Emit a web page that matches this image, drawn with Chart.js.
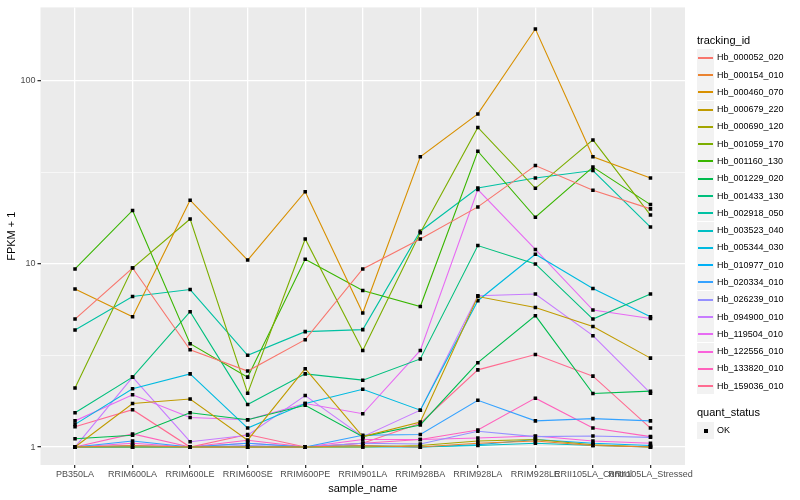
<!DOCTYPE html>
<html>
<head>
  <title>FPKM by sample</title>
  <script src="https://cdn.jsdelivr.net/npm/chart.js"></script>
  <style>
    body { margin: 0; background: #fff; font-family: "Liberation Sans", Arial, sans-serif; }
    #wrap { position: relative; width: 800px; height: 500px; }
    #legend { position: absolute; left: 0; top: 0; width: 800px; height: 500px; pointer-events: none; }
    .ttl { position: absolute; left: 697px; font-size: 11px; color: #000; line-height: 14px; }
    .key { position: absolute; left: 697px; width: 17px; height: 17px; background: #F2F2F2; }
    .key i { position: absolute; left: 1px; width: 15px; top: 8px; height: 1.5px; }
    .key b { position: absolute; left: 7px; top: 7px; width: 4px; height: 4px; background: #000; }
    .lab { position: absolute; left: 717px; font-size: 9px; color: #000; line-height: 12px; }
  </style>
</head>
<body>
<div id="wrap">
  <canvas id="c" width="800" height="500"></canvas>
  <div id="legend"></div>
</div>
<script>
const samples = ['PB350LA', 'RRIM600LA', 'RRIM600LE', 'RRIM600SE', 'RRIM600PE', 'RRIM901LA',
  'RRIM928BA', 'RRIM928LA', 'RRIM928LE', 'RRII105LA_Control', 'RRII105LA_Stressed'];

const ids = ['Hb_000052_020', 'Hb_000154_010', 'Hb_000460_070', 'Hb_000679_220', 'Hb_000690_120',
  'Hb_001059_170', 'Hb_001160_130', 'Hb_001229_020', 'Hb_001433_130', 'Hb_002918_050',
  'Hb_003523_040', 'Hb_005344_030', 'Hb_010977_010', 'Hb_020334_010', 'Hb_026239_010',
  'Hb_094900_010', 'Hb_119504_010', 'Hb_122556_010', 'Hb_133820_010', 'Hb_159036_010'];

const colors = ['#F8766D', '#EA8331', '#D89000', '#C09B00', '#A3A500', '#7CAE00', '#39B600', '#00BB4E',
  '#00BF7D', '#00C1A3', '#00BFC4', '#00BAE0', '#00B0F6', '#35A2FF', '#9590FF', '#C77CFF',
  '#E76BF3', '#FA62DB', '#FF62BC', '#FF6C91'];

// FPKM + 1, one row per tracking_id, one value per sample
const hb000052 = [5.0, 9.5, 3.4, 2.6, 3.86, 9.4, 13.7, 20.5, 34.5, 25.3, 20.0];
const hb000154 = [1.0, 1.02, 1.0, 1.0, 1.0, 1.02, 1.0, 1.05, 1.08, 1.02, 1.0];
const hb000460 = [7.3, 5.15, 22.3, 10.5, 24.8, 5.4, 38.5, 66, 192, 38.5, 29.5];
const hb000679 = [1.0, 1.73, 1.83, 1.09, 2.68, 1.14, 1.37, 6.64, 5.79, 4.55, 3.06];
const hb000690 = [1.0, 1.0, 1.0, 1.0, 1.0, 1.0, 1.02, 1.08, 1.1, 1.03, 1.0];
const hb001059 = [2.1, 9.5, 17.6, 1.97, 13.7, 3.37, 14.8, 55.7, 25.9, 47.6, 18.5];
const hb001160 = [9.4, 19.6, 3.67, 2.41, 10.6, 7.16, 5.86, 41.3, 18.0, 33.8, 21.1];
const hb001229 = [1.11, 1.16, 1.54, 1.41, 1.69, 1.14, 1.32, 2.89, 5.22, 1.96, 2.02];
const hb001433 = [1.54, 2.41, 5.49, 1.71, 2.51, 2.32, 3.03, 12.6, 10.0, 5.0, 6.85];
const hb002918 = [4.36, 6.64, 7.25, 3.17, 4.27, 4.38, 15.1, 26.0, 29.5, 32.4, 15.9];
const hb003523 = [1.0, 1.0, 1.0, 1.0, 1.0, 1.0, 1.0, 1.02, 1.05, 1.02, 1.0];
const hb005344 = [1.33, 2.08, 2.51, 1.27, 1.73, 2.07, 1.59, 6.3, 11.3, 7.34, 5.15];
const hb010977 = [1.0, 1.0, 1.0, 1.0, 1.0, 1.02, 1.0, 1.03, 1.1, 1.05, 1.02];
const hb020334 = [1.0, 1.08, 1.0, 1.05, 1.0, 1.16, 1.17, 1.8, 1.39, 1.43, 1.39];
const hb026239 = [1.0, 1.02, 1.0, 1.02, 1.0, 1.05, 1.04, 1.22, 1.14, 1.15, 1.13];
const hb094900 = [1.0, 2.41, 1.07, 1.16, 1.91, 1.14, 1.59, 6.7, 6.85, 4.06, 1.97];
const hb119504 = [1.39, 1.93, 1.45, 1.41, 1.73, 1.52, 3.37, 25.5, 12.0, 5.6, 5.04];
const hb122556 = [1.0, 1.05, 1.0, 1.05, 1.0, 1.1, 1.1, 1.12, 1.15, 1.08, 1.05];
const hb133820 = [1.0, 1.18, 1.0, 1.09, 1.0, 1.05, 1.1, 1.24, 1.85, 1.27, 1.14];
const hb159036 = [1.29, 1.6, 1.0, 1.17, 1.0, 1.05, 1.35, 2.64, 3.2, 2.44, 1.27];

const series = [hb000052, hb000154, hb000460, hb000679, hb000690, hb001059, hb001160, hb001229,
  hb001433, hb002918, hb003523, hb005344, hb010977, hb020334, hb026239, hb094900, hb119504,
  hb122556, hb133820, hb159036];

const yBreaks = [1, Math.sqrt(10), 10, Math.sqrt(1000), 100];
const yLabels = [1, 10, 100];

const panelBg = {
  id: 'panelBg',
  beforeDraw(chart) {
    const a = chart.chartArea, c = chart.ctx;
    c.save();
    c.fillStyle = '#EBEBEB';
    c.fillRect(a.left, a.top, a.right - a.left, a.bottom - a.top);
    c.restore();
  }
};

const datasets = series.map((vals, k) => ({
  label: ids[k],
  data: vals.map((v, i) => ({ x: i, y: v })),
  borderColor: colors[k],
  backgroundColor: '#000',
  borderWidth: 1.1,
  pointStyle: 'rect',
  pointRadius: 2.5,
  pointBorderWidth: 0,
  pointBackgroundColor: '#000',
  tension: 0
}));

const tickFont = { family: 'Liberation Sans', size: 9 };

new Chart(document.getElementById('c'), {
  type: 'line',
  data: { datasets },
  plugins: [panelBg],
  options: {
    responsive: false,
    animation: false,
    layout: { padding: { left: 0, top: 5, right: 115, bottom: 0 } },
    plugins: { legend: { display: false }, tooltip: { enabled: false } },
    scales: {
      x: {
        type: 'linear',
        min: -0.6,
        max: 10.6,
        afterBuildTicks: s => { s.ticks = samples.map((n, i) => ({ value: i })); },
        afterFit: s => { s.height = 35; },
        ticks: {
          autoSkip: false, maxRotation: 0, padding: 1, color: '#4D4D4D', font: tickFont,
          callback: v => samples[v]
        },
        grid: { color: '#FFFFFF', lineWidth: 1.3, tickLength: 3, tickColor: '#333333' },
        border: { display: false },
        title: { display: true, text: 'sample_name', color: '#000', font: { family: 'Liberation Sans', size: 11 }, padding: { top: 1, bottom: 4 } }
      },
      y: {
        type: 'logarithmic',
        min: 0.798,
        max: 252,
        afterBuildTicks: s => { s.ticks = yBreaks.map(v => ({ value: v })); },
        afterFit: s => { s.width = 40.5; },
        ticks: {
          padding: 2, color: '#4D4D4D', font: tickFont,
          callback: v => (yLabels.includes(v) ? String(v) : '')
        },
        grid: {
          color: '#FFFFFF',
          lineWidth: ctx => (ctx.index % 2 ? 0.6 : 1.3),
          tickLength: 3,
          tickColor: ctx => (ctx.index % 2 ? 'rgba(0,0,0,0)' : '#333333')
        },
        border: { display: false },
        title: { display: true, text: 'FPKM + 1', color: '#000', font: { family: 'Liberation Sans', size: 11 }, padding: { top: 5, bottom: 2 } }
      }
    }
  }
});

// ggplot-style legend as html text
const lg = document.getElementById('legend');
function add(cls, top, html) {
  const d = document.createElement('div');
  d.className = cls;
  d.style.top = Math.round(top) + 'px';
  d.innerHTML = html;
  lg.appendChild(d);
}
add('ttl', 33, 'tracking_id');
ids.forEach((id, k) => {
  const cy = 57.3 + k * 17.28;
  add('key', cy - 8.5, '<i style="background:' + colors[k] + '"></i>');
  add('lab', cy - 6, id);
});
add('ttl', 405, 'quant_status');
add('key', 421.5, '<b></b>');
add('lab', 424, 'OK');
</script>
</body>
</html>
